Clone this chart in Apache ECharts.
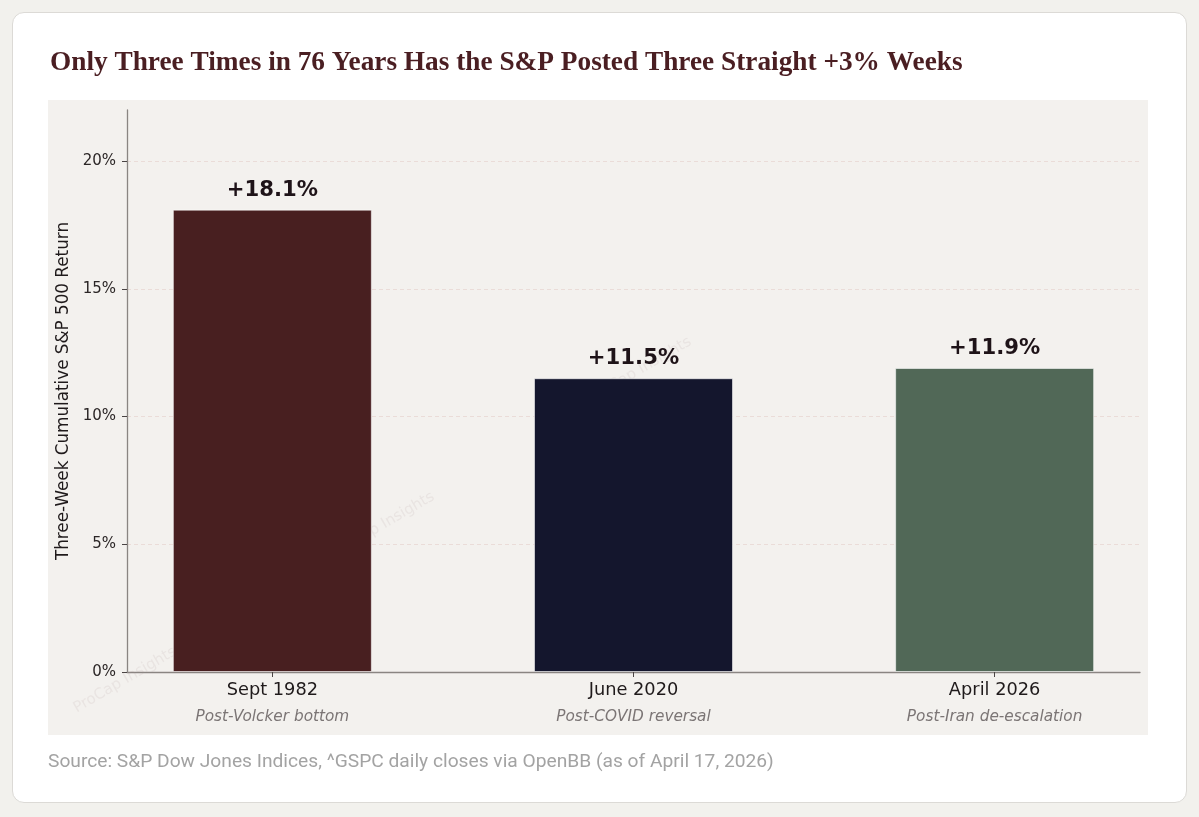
<!DOCTYPE html>
<html>
<head>
<meta charset="utf-8">
<script src="https://cdn.jsdelivr.net/npm/echarts@6/dist/echarts.min.js"></script>
<style>
  html, body { margin: 0; padding: 0; width: 1199px; height: 817px; background: #f2f1ed; overflow: hidden; }
  #card { position: absolute; left: 12px; top: 12px; width: 1173px; height: 789px; background: #ffffff; border: 1px solid #dcdad6; border-radius: 12px; }
  #chart { position: absolute; left: 0; top: 0; width: 1199px; height: 817px; }
</style>
</head>
<body>
<div id="card"></div>
<div id="chart"></div>
<script>
// ---- data ----
const categories = ['Sept 1982', 'June 2020', 'April 2026'];
const subtitles = ['Post-Volcker bottom', 'Post-COVID reversal', 'Post-Iran de-escalation'];
const returns = [18.1, 11.5, 11.9];
const barColors = ['#481f20', '#14162d', '#516857'];
const yTicks = [0, 5, 10, 15, 20];
const xPositions = [0, 1, 2];

const titleText = 'Only Three Times in 76 Years Has the S&P Posted Three Straight +3% Weeks';
const sourceText = 'Source: S&P Dow Jones Indices, ^GSPC daily closes via OpenBB (as of April 17, 2026)';
const yName = 'Three-Week Cumulative S&P 500 Return';

const FONT = 'DejaVu Sans';

const chart = echarts.init(document.getElementById('chart'), null, { renderer: 'canvas' });

const watermarks = [[125, 680], [383, 525], [640, 370]].map(p => ({
  type: 'text', x: p[0], y: p[1], rotation: 0.53, z: 1,
  style: { text: 'ProCap Insights', fill: 'rgba(170,150,150,0.13)', font: '15px DejaVu Sans', align: 'center', verticalAlign: 'middle' }
}));

const option = {
  backgroundColor: 'transparent',
  animation: false,
  title: {
    text: titleText,
    left: 45, top: 44,
    textStyle: { fontFamily: 'Liberation Serif', fontWeight: 'bold', fontSize: 27.3, color: '#4a1e22' }
  },
  graphic: [
    { type: 'rect', shape: { x: 48, y: 100, width: 1100, height: 635 }, style: { fill: '#f3f1ee' }, z: 0, silent: true },
    ...watermarks,
    { type: 'text', x: 48, y: 762, style: { text: sourceText, fill: '#a3a3a3', font: '19.2px Roboto', verticalAlign: 'middle' }, z: 5 }
  ],
  grid: { left: 127, top: 110, right: 59, bottom: 145, containLabel: false },
  xAxis: {
    type: 'value',
    min: -0.4025, max: 2.4025,
    axisLine: { show: true, onZero: false, lineStyle: { color: '#8a8582', width: 1.3 } },
    axisTick: { show: true, customValues: xPositions, length: 5, lineStyle: { color: '#4a4444', width: 1 } },
    splitLine: { show: false },
    axisLabel: {
      customValues: xPositions,
      margin: 5,
      formatter: v => {
        const i = Math.round(v);
        return '{a|' + categories[i] + '}\n{b|' + subtitles[i] + '}';
      },
      rich: {
        a: { fontFamily: FONT, fontSize: 17.8, color: '#1f1a1b', lineHeight: 27 },
        b: { fontFamily: FONT, fontSize: 15.3, fontStyle: 'italic', color: '#7b7575', lineHeight: 27 }
      }
    }
  },
  yAxis: {
    type: 'value',
    min: 0, max: 22, interval: 5,
    name: yName,
    nameLocation: 'middle',
    nameGap: 52,
    nameTextStyle: { fontFamily: FONT, fontSize: 16.8, color: '#1f1a1b' },
    axisLine: { show: true, onZero: false, lineStyle: { color: '#8a8582', width: 1.3 } },
    axisTick: { show: true, customValues: yTicks, length: 5, lineStyle: { color: '#4a4444', width: 1 } },
    axisLabel: {
      customValues: yTicks,
      margin: 11,
      formatter: v => v + '%',
      fontFamily: FONT, fontSize: 15, color: '#2b2626'
    },
    splitLine: { show: true, lineStyle: { color: '#eadcd8', type: [4, 3], width: 1 } }
  },
  series: [{
    type: 'bar',
    barWidth: 199,
    z: 3,
    data: returns.map((v, i) => ({
      value: [xPositions[i], v],
      itemStyle: { color: barColors[i], borderColor: 'rgba(255,255,255,0.55)', borderWidth: 1 }
    })),
    label: {
      show: true, position: 'top', distance: 9,
      formatter: p => '+' + p.value[1].toFixed(1) + '%',
      fontFamily: FONT, fontWeight: 'bold', fontSize: 21.2, color: '#1e1318'
    }
  }]
};
chart.setOption(option);
</script>
</body>
</html>
